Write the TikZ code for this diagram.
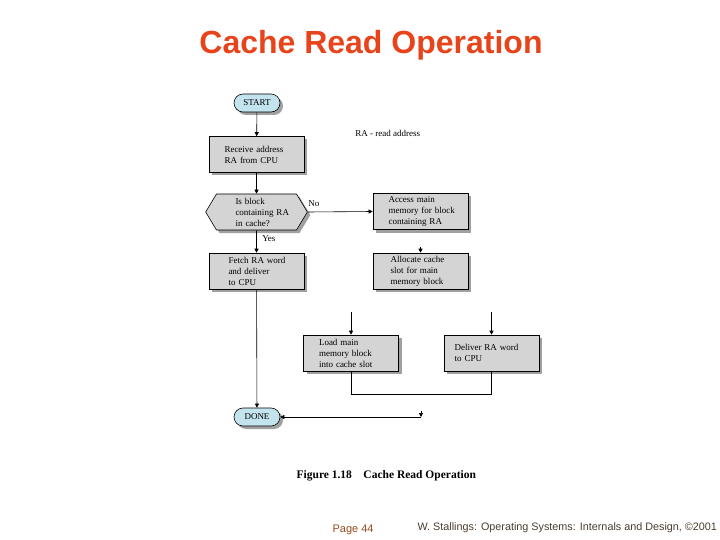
\documentclass[tikz,border=0pt]{standalone}
\usepackage{fontspec}
\setmainfont{Liberation Serif}
\newfontfamily\arialf{Liberation Sans}
\usetikzlibrary{arrows.meta,shapes.misc,shapes.symbols,shadows}
\definecolor{titlered}{HTML}{E8441C}
\definecolor{boxgray}{HTML}{D4D4D4}
\definecolor{pillblue}{HTML}{C3E4EE}
\definecolor{shadowgray}{HTML}{A0A0A0}
\definecolor{pagebrown}{HTML}{9A4A1E}
\definecolor{footgray}{HTML}{4A3C30}
\newcommand{\btxt}[2]{\leftskip=#1\relax #2\par}
\begin{document}
\begin{tikzpicture}[x=1pt,y=-1pt,line width=0.6pt,
  shd/.style={drop shadow={shadow xshift=3pt,shadow yshift=-3pt,fill=shadowgray,opacity=1}},
  boxtext/.style={font=\fontsize{9}{11}\selectfont},
  box/.style={boxtext,draw,fill=boxgray,shd,minimum width=95pt,minimum height=36pt,inner sep=0pt,text width=74pt,align=left},
  pill/.style={boxtext,draw,fill=pillblue,shd,rounded rectangle,minimum width=46pt,minimum height=18pt,inner sep=0pt},
  hexa/.style={boxtext,draw,fill=boxgray,shd,signal,signal to=west and east,signal pointer angle=118,minimum width=95pt,minimum height=36pt,inner sep=0pt,text width=80pt,align=left},
  arr/.style={-{Triangle[length=4pt,width=4pt]}},
  lbl/.style={font=\fontsize{9}{11}\selectfont,inner sep=0pt}]
\useasboundingbox (0,0) rectangle (720,540);
\node[font=\arialf\bfseries\fontsize{32}{36}\selectfont,text=titlered] (title) at (371,45) {Cache Read Operation};

\node[pill] (start) at (257,103) {START};
\node[box] (recv) at (256.5,154.5) {\btxt{5pt}{Receive address\\RA from CPU}};
\node[hexa] (hex) at (256.5,212) {\btxt{19pt}{Is block\\containing RA\\in cache?}};
\node[box] (access) at (420.5,211.5) {\btxt{5pt}{Access main\\memory for block\\containing RA}};
\node[box] (fetch) at (256.5,271) {\btxt{9pt}{Fetch RA word\\and deliver\\to CPU}};
\node[box] (alloc) at (420.5,271) {\btxt{7pt}{Allocate cache\\slot for main\\memory block}};
\node[box] (load) at (351,353) {\btxt{5pt}{Load main\\memory block\\into cache slot}};
\node[box] (deliv) at (491.5,353) {\btxt{0pt}{Deliver RA word\\to CPU}};
\node[pill] (done) at (257,417) {DONE};

\node[lbl,anchor=west] (ra) at (355,133) {RA - read address};
\node[lbl,anchor=west] (no) at (308,204) {No};
\node[lbl,anchor=west] (yes) at (262,239) {Yes};

\coordinate (a1) at (420.5,247);
\coordinate (l1) at (351,312);
\coordinate (d1) at (491.5,312);
\coordinate (dn) at (421,417);
\coordinate (dn0) at (421,411);

\draw[arr] (start) -- (recv);
\draw[arr] (recv) -- (hex);
\draw[arr] (hex.east) -- (access.west);
\draw[arr] (hex) -- (fetch);
\draw[arr] (fetch) -- (done);
\draw[arr] (a1) -- (alloc.north);
\draw[arr] (l1) -- (load.north);
\draw[arr] (d1) -- (deliv.north);
\draw (load.south) -- ++(0,23) -| (deliv.south);
\draw[arr] (dn) -- (done.east);
\draw[arr] (dn0) -- (dn);

\node[font=\bfseries\fontsize{11.5}{13}\selectfont,anchor=west] (cap) at (293,476) {Figure 1.18\hspace{1em}Cache Read Operation};
\node[font=\arialf\fontsize{11}{13}\selectfont,text=pagebrown,anchor=west] (page) at (329,530) {Page 44};
\node[font=\arialf\fontsize{10.8}{13}\selectfont,text=footgray,anchor=west] (foot) at (414,528) {W. Stallings: Operating Systems: Internals and Design, \textcopyright2001};
\end{tikzpicture}
\end{document}
